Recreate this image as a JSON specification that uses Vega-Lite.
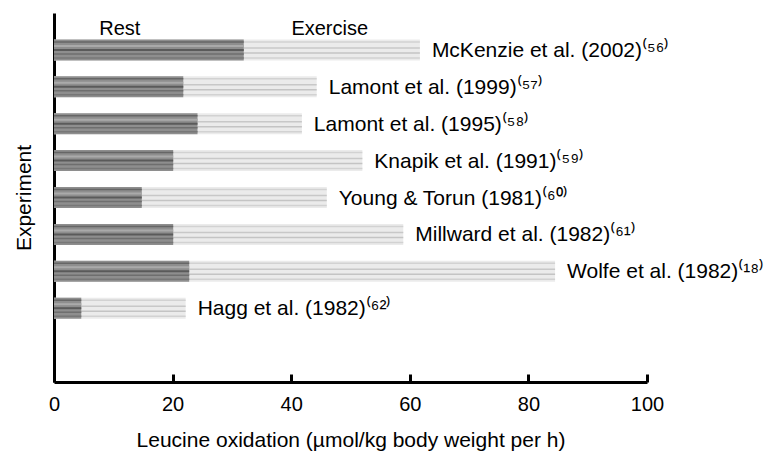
{
  "$schema": "https://vega.github.io/schema/vega-lite/v6.json",
  "width": 593,
  "height": 369,
  "autosize": "none",
  "padding": {"left": 54, "top": 13, "right": 118, "bottom": 69},
  "background": "white",
  "config": {"view": {"stroke": null}, "font": "Liberation Sans"},
  "datasets": {
    "studies": [
      {"study": "McKenzie et al. (2002)⁽⁵⁶⁾", "rest": 32.0, "exercise": 61.7},
      {"study": "Lamont et al. (1999)⁽⁵⁷⁾", "rest": 21.8, "exercise": 44.3},
      {"study": "Lamont et al. (1995)⁽⁵⁸⁾", "rest": 24.2, "exercise": 41.8},
      {"study": "Knapik et al. (1991)⁽⁵⁹⁾", "rest": 20.1, "exercise": 52.0},
      {"study": "Young & Torun (1981)⁽⁶⁰⁾", "rest": 14.8, "exercise": 46.0},
      {"study": "Millward et al. (1982)⁽⁶¹⁾", "rest": 20.1, "exercise": 58.9},
      {"study": "Wolfe et al. (1982)⁽¹⁸⁾", "rest": 22.8, "exercise": 84.5},
      {"study": "Hagg et al. (1982)⁽⁶²⁾", "rest": 4.6, "exercise": 22.2}
    ],
    "headers": [
      {"text": "Rest", "x": 11.1, "study": "McKenzie et al. (2002)⁽⁵⁶⁾"},
      {"text": "Exercise", "x": 46.5, "study": "McKenzie et al. (2002)⁽⁵⁶⁾"}
    ]
  },
  "data": {"name": "studies"},
  "encoding": {
    "y": {
      "field": "study",
      "type": "nominal",
      "sort": null,
      "scale": {
        "domain": [
          "McKenzie et al. (2002)⁽⁵⁶⁾",
          "Lamont et al. (1999)⁽⁵⁷⁾",
          "Lamont et al. (1995)⁽⁵⁸⁾",
          "Knapik et al. (1991)⁽⁵⁹⁾",
          "Young & Torun (1981)⁽⁶⁰⁾",
          "Millward et al. (1982)⁽⁶¹⁾",
          "Wolfe et al. (1982)⁽¹⁸⁾",
          "Hagg et al. (1982)⁽⁶²⁾",
          ""
        ],
        "paddingInner": 0.43,
        "paddingOuter": 0.715
      },
      "axis": {
        "labels": false,
        "ticks": false,
        "domainColor": "black",
        "domainWidth": 3,
        "title": "Experiment",
        "titleFont": "Liberation Sans",
        "titleFontSize": 21,
        "titleFontWeight": "normal",
        "titleColor": "black",
        "titlePadding": 20
      }
    }
  },
  "layer": [
    {
      "mark": {"type": "bar", "color": "#ebebeb"},
      "encoding": {
        "x": {
          "field": "exercise",
          "type": "quantitative",
          "scale": {"domain": [0, 100], "nice": false},
          "axis": {
            "values": [0, 20, 40, 60, 80, 100],
            "grid": false,
            "labelFlush": false,
            "domainColor": "black",
            "domainWidth": 3,
            "tickColor": "black",
            "tickWidth": 3,
            "tickSize": -8,
            "labelPadding": 20,
            "labelFont": "Liberation Sans",
            "labelFontSize": 20,
            "labelColor": "black",
            "title": "Leucine oxidation (µmol/kg body weight per h)",
            "titleFont": "Liberation Sans",
            "titleFontSize": 21,
            "titleFontWeight": "normal",
            "titleColor": "black",
            "titlePadding": 15
          }
        }
      }
    },
    {"mark": {"type": "rule", "color": "#d2d2d2", "strokeWidth": 1.5, "yOffset": -8}, "encoding": {"x": {"field": "exercise", "type": "quantitative"}, "x2": {"datum": 0}}},
    {"mark": {"type": "rule", "color": "#c8c8c8", "strokeWidth": 1.5, "yOffset": -2}, "encoding": {"x": {"field": "exercise", "type": "quantitative"}, "x2": {"datum": 0}}},
    {"mark": {"type": "rule", "color": "#c4c4c4", "strokeWidth": 1.5, "yOffset": 3}, "encoding": {"x": {"field": "exercise", "type": "quantitative"}, "x2": {"datum": 0}}},
    {"mark": {"type": "rule", "color": "#d2d2d2", "strokeWidth": 1.5, "yOffset": 8}, "encoding": {"x": {"field": "exercise", "type": "quantitative"}, "x2": {"datum": 0}}},
    {
      "mark": {"type": "bar", "color": "#8e8e8e"},
      "encoding": {"x": {"field": "rest", "type": "quantitative"}}
    },
    {"mark": {"type": "rule", "color": "#666666", "strokeWidth": 1.5, "yOffset": -8}, "encoding": {"x": {"field": "rest", "type": "quantitative"}, "x2": {"datum": 0}}},
    {"mark": {"type": "rule", "color": "#aaaaaa", "strokeWidth": 2, "yOffset": -4}, "encoding": {"x": {"field": "rest", "type": "quantitative"}, "x2": {"datum": 0}}},
    {"mark": {"type": "rule", "color": "#5a5a5a", "strokeWidth": 2, "yOffset": 0}, "encoding": {"x": {"field": "rest", "type": "quantitative"}, "x2": {"datum": 0}}},
    {"mark": {"type": "rule", "color": "#6e6e6e", "strokeWidth": 1.5, "yOffset": 4}, "encoding": {"x": {"field": "rest", "type": "quantitative"}, "x2": {"datum": 0}}},
    {"mark": {"type": "rule", "color": "#777777", "strokeWidth": 1.5, "yOffset": 8}, "encoding": {"x": {"field": "rest", "type": "quantitative"}, "x2": {"datum": 0}}},
    {
      "mark": {"type": "text", "align": "left", "baseline": "middle", "dx": 12, "dy": 1, "fontSize": 21, "font": "Liberation Sans", "color": "black"},
      "encoding": {
        "x": {"field": "exercise", "type": "quantitative"},
        "text": {"field": "study"}
      }
    },
    {
      "data": {"name": "headers"},
      "mark": {"type": "text", "align": "center", "baseline": "alphabetic", "dy": -15, "fontSize": 20, "font": "Liberation Sans", "color": "black"},
      "encoding": {
        "x": {"field": "x", "type": "quantitative"},
        "text": {"field": "text"}
      }
    }
  ]
}
